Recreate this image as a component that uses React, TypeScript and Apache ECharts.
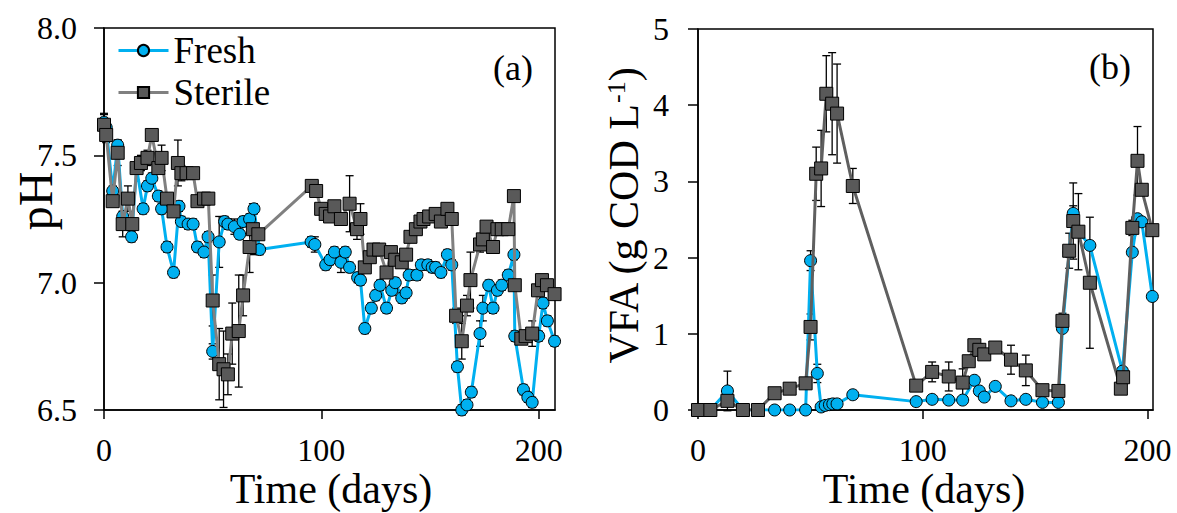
import React, { useEffect, useRef } from 'react';
import * as echarts from 'echarts';

// ---------- Panel (a): pH ----------
const phFreshDays = [0, 1, 4, 6.3, 8.6, 12.7, 15, 18, 20, 22, 25, 26.5, 29, 32, 34.5, 35.6, 38.7, 41, 43, 46, 47.9, 50, 53, 55.5, 57, 60, 62.4, 64, 67, 69, 71.6, 95.3, 97, 102, 104, 106, 109, 111, 113, 116.7, 118, 120, 123, 125, 127, 130, 132.4, 134, 137, 139, 140.4, 144, 146, 149, 151, 152.6, 155, 158, 160, 162.6, 164.6, 167, 169, 173, 174.3, 177, 179, 181, 183, 186, 188.6, 189, 193, 195, 197, 200, 202, 204, 207.3];
const phFreshVals = [7.63, 7.61, 7.36, 7.54, 7.26, 7.18, 7.45, 7.29, 7.38, 7.41, 7.34, 7.29, 7.14, 7.04, 7.30, 7.24, 7.23, 7.23, 7.14, 7.12, 7.18, 6.73, 7.16, 7.24, 7.23, 7.22, 7.19, 7.24, 7.25, 7.29, 7.13, 7.16, 7.15, 7.07, 7.09, 7.12, 7.08, 7.12, 7.06, 7.02, 7.01, 6.82, 6.90, 6.95, 6.99, 6.90, 6.97, 7.00, 6.94, 6.96, 7.03, 7.03, 7.07, 7.07, 7.06, 7.06, 7.04, 7.11, 7.07, 6.67, 6.50, 6.52, 6.57, 6.80, 6.90, 6.99, 6.90, 6.97, 6.99, 7.03, 7.11, 6.79, 6.58, 6.55, 6.53, 6.79, 6.92, 6.85, 6.77];
const phFreshErr = [0.03, 0.02, 0.02, 0.02, 0.02, 0.02, 0.02, 0.02, 0.02, 0.02, 0.02, 0.02, 0.02, 0.02, 0.02, 0.02, 0.02, 0.02, 0.02, 0.02, 0.02, 0.03, 0.1, 0.02, 0.02, 0.03, 0.02, 0.02, 0.02, 0.02, 0.02, 0.02, 0.03, 0.02, 0.02, 0.02, 0.04, 0.02, 0.02, 0.02, 0.02, 0.02, 0.02, 0.02, 0.02, 0.02, 0.02, 0.02, 0.02, 0.02, 0.02, 0.02, 0.02, 0.02, 0.02, 0.02, 0.02, 0.02, 0.02, 0.02, 0.02, 0.02, 0.02, 0.05, 0.05, 0.02, 0.02, 0.02, 0.02, 0.02, 0.02, 0.02, 0.02, 0.02, 0.02, 0.02, 0.02, 0.02, 0.02];

const phSterileDays = [0, 1, 4, 6.3, 8.6, 11, 13, 15, 17, 20, 22, 25, 26.5, 29, 32, 34, 35.6, 38, 41, 43, 46, 48, 50, 53, 55, 57, 59, 62, 64, 67, 68.5, 71, 95.6, 97.6, 99.9, 102, 104, 106, 109, 113, 116.4, 118, 120, 122.3, 124, 126.6, 130, 132, 134, 137, 139, 141, 143.5, 145.6, 147, 149.6, 152.6, 155, 158, 160, 162, 164.6, 167, 168.6, 173, 174.3, 176, 179, 181, 183, 186, 188.6, 189, 192, 194, 197, 199.7, 201.5, 203.8, 207.3];
const phSterileVals = [7.62, 7.58, 7.32, 7.51, 7.23, 7.33, 7.23, 7.45, 7.47, 7.49, 7.58, 7.45, 7.49, 7.33, 7.28, 7.47, 7.43, 7.43, 7.43, 7.32, 7.33, 7.33, 6.93, 6.68, 6.66, 6.64, 6.80, 6.81, 6.95, 7.14, 7.21, 7.19, 7.38, 7.36, 7.29, 7.27, 7.26, 7.30, 7.25, 7.31, 7.21, 7.25, 7.06, 7.10, 7.13, 7.13, 7.04, 7.12, 7.09, 7.08, 7.11, 7.18, 7.21, 7.24, 7.25, 7.26, 7.27, 7.24, 7.29, 7.25, 6.87, 6.77, 6.91, 7.01, 7.15, 7.17, 7.22, 7.14, 7.21, 7.21, 7.21, 7.34, 6.99, 6.78, 6.79, 6.80, 6.97, 7.01, 6.99, 6.955];
const phSterileErr = [0.045, 0.03, 0.02, 0.05, 0.05, 0.05, 0.02, 0.02, 0.03, 0.03, 0.01, 0.02, 0.05, 0.02, 0.02, 0.09, 0.03, 0.01, 0.01, 0.01, 0.01, 0.01, 0.1, 0.14, 0.15, 0.08, 0.12, 0.22, 0.08, 0.1, 0.1, 0.02, 0.01, 0.02, 0.01, 0.02, 0.01, 0.01, 0.02, 0.11, 0.04, 0.06, 0.02, 0.02, 0.01, 0.01, 0.02, 0.01, 0.01, 0.01, 0.02, 0.01, 0.01, 0.01, 0.01, 0.01, 0.01, 0.01, 0.01, 0.01, 0.03, 0.07, 0.04, 0.11, 0.03, 0.02, 0.01, 0.01, 0.01, 0.01, 0.01, 0.01, 0.01, 0.02, 0.02, 0.05, 0.02, 0.02, 0.01, 0.01];

// ---------- Panel (b): VFA ----------
const vfaFreshDays = [0, 5.5, 13.1, 20, 26.7, 34.1, 40.8, 47.9, 50.1, 53.1, 54.8, 56.6, 58.5, 60, 61.9, 68.9, 97.1, 104.2, 111.6, 117.8, 123, 125.2, 127.4, 132.3, 139.3, 145.9, 153.3, 160.4, 162.2, 165.2, 167, 169.3, 174.4, 188.9, 193.3, 195.6, 197.5, 202.2];
const vfaFreshVals = [0, 0, 0.25, 0, 0, 0, 0, 0, 1.96, 0.48, 0.04, 0.06, 0.07, 0.08, 0.08, 0.2, 0.11, 0.14, 0.13, 0.13, 0.39, 0.25, 0.17, 0.31, 0.12, 0.14, 0.1, 0.1, 1.07, 2.07, 2.58, 2.34, 2.16, 0.51, 2.07, 2.51, 2.47, 1.49];
const vfaFreshErr = [0, 0, 0.26, 0, 0, 0, 0, 0, 0.13, 0.12, 0, 0, 0, 0, 0, 0.02, 0.02, 0.02, 0.02, 0.02, 0.03, 0.03, 0.02, 0.02, 0.02, 0.05, 0.02, 0.02, 0.05, 0.05, 0.1, 0.05, 0.05, 0.05, 0.05, 0.05, 0.05, 0.05];

const vfaSterileDays = [0, 5.5, 13.1, 20, 26.7, 34.1, 40.8, 47.9, 50.1, 52.6, 54.8, 57.1, 59.7, 61.9, 68.9, 97.1, 104.2, 111.6, 117.8, 120.5, 123, 125.2, 127.4, 132.3, 139.3, 145.9, 153.3, 160.4, 162.2, 165.2, 167, 169.3, 174.4, 188.2, 189.2, 193.3, 195.6, 197.5, 202.2];
const vfaSterileVals = [0, 0, 0.12, 0, 0, 0.22, 0.28, 0.35, 1.09, 3.1, 3.17, 4.15, 4.02, 3.89, 2.94, 0.32, 0.5, 0.44, 0.36, 0.64, 0.85, 0.79, 0.73, 0.82, 0.66, 0.52, 0.26, 0.25, 1.17, 2.09, 2.48, 2.34, 1.67, 0.28, 0.43, 2.39, 3.27, 2.89, 2.36];
const vfaSterileErr = [0, 0, 0.05, 0, 0, 0.03, 0.03, 0.03, 0.17, 0.35, 0.5, 0.5, 0.67, 0.65, 0.23, 0.05, 0.13, 0.19, 0.18, 0.05, 0.05, 0.08, 0.05, 0.05, 0.19, 0.2, 0.03, 0.03, 0.1, 0.23, 0.5, 0.5, 0.86, 0.03, 0.03, 0.1, 0.45, 0.05, 0.05];

const dayTicks = [0, 100, 200];

const FONT = '"Liberation Serif", "Times New Roman", serif';
const BLUE = '#00B0F0';
const SQ = '#595959';

const zip2 = (a: number[], b: number[]) => a.map((v, i) => [v, b[i]]);
const zip3 = (a: number[], b: number[], c: number[]) => a.map((v, i) => [v, b[i], c[i]]);

const errRender = (params: any, api: any) => {
  const x = api.value(0);
  const y = api.value(1);
  const e = api.value(2);
  if (!e) return null;
  const top = api.coord([x, y + e]);
  const bot = api.coord([x, y - e]);
  const w = 4;
  const st = { stroke: '#000', lineWidth: 1.3 };
  return {
    type: 'group',
    children: [
      { type: 'line', shape: { x1: top[0], y1: top[1], x2: bot[0], y2: bot[1] }, style: st },
      { type: 'line', shape: { x1: top[0] - w, y1: top[1], x2: top[0] + w, y2: top[1] }, style: st },
      { type: 'line', shape: { x1: bot[0] - w, y1: bot[1], x2: bot[0] + w, y2: bot[1] }, style: st },
    ],
  };
};

const xAxisCommon = (grid: number, max: number) => ({
  gridIndex: grid,
  type: 'value',
  min: 0,
  max,
  interval: 100,
  axisLine: { show: true, lineStyle: { color: '#000', width: 1.5 } },
  axisTick: { show: true, inside: false, length: 9, customValues: dayTicks, lineStyle: { color: '#000', width: 1.5 } },
  axisLabel: { customValues: dayTicks, fontSize: 32, fontFamily: FONT, color: '#000', margin: 24 },
  splitLine: { show: false },
});

const option: any = {
  animation: false,
  backgroundColor: '#fff',
  grid: [
    { left: 104, top: 28, width: 451, height: 382, show: true, borderColor: '#000', borderWidth: 1.5, backgroundColor: 'transparent' },
    { left: 698, top: 29, width: 455, height: 381, show: true, borderColor: '#000', borderWidth: 1.5, backgroundColor: 'transparent' },
  ],
  xAxis: [xAxisCommon(0, 207.5), xAxisCommon(1, 202.5)],
  yAxis: [
    {
      gridIndex: 0, type: 'value', min: 6.5, max: 8.0, interval: 0.5,
      axisLine: { show: true, lineStyle: { color: '#000', width: 1.5 } },
      axisTick: { show: true, inside: false, length: 10, lineStyle: { color: '#000', width: 1.5 } },
      axisLabel: { fontSize: 32, fontFamily: FONT, color: '#000', margin: 27, formatter: (v: number) => v.toFixed(1) },
      splitLine: { show: false },
    },
    {
      gridIndex: 1, type: 'value', min: 0, max: 5, interval: 1,
      axisLine: { show: true, lineStyle: { color: '#000', width: 1.5 } },
      axisTick: { show: true, inside: false, length: 10, lineStyle: { color: '#000', width: 1.5 } },
      axisLabel: { fontSize: 32, fontFamily: FONT, color: '#000', margin: 29 },
      splitLine: { show: false },
    },
  ],
  legend: {
    data: ['Fresh', 'Sterile'],
    orient: 'vertical',
    left: 112,
    top: 27,
    itemWidth: 50,
    itemHeight: 14,
    itemGap: 5,
    lineStyle: { width: 3 },
    textStyle: { fontSize: 37, fontFamily: FONT, color: '#000' },
  },
  graphic: [
    { type: 'text', x: 35, y: 201, rotation: Math.PI / 2, style: { text: 'pH', font: `48px ${FONT}`, fill: '#000', textAlign: 'center', textVerticalAlign: 'middle', align: 'center', verticalAlign: 'middle' } },
    {
      type: 'text', x: 624, y: 216, rotation: Math.PI / 2,
      style: {
        text: '{n|VFA (g COD L}{s|-1}{n|)}',
        rich: {
          n: { fontSize: 42, fontFamily: FONT, fill: '#000', color: '#000' },
          s: { fontSize: 26, fontFamily: FONT, fill: '#000', color: '#000', verticalAlign: 'top', padding: [0, 0, 12, 0] },
        },
        fill: '#000', textAlign: 'center', textVerticalAlign: 'middle', align: 'center', verticalAlign: 'middle',
      },
    },
    { type: 'text', x: 331, y: 489, style: { text: 'Time (days)', font: `42px ${FONT}`, fill: '#000', textAlign: 'center', textVerticalAlign: 'middle', align: 'center', verticalAlign: 'middle' } },
    { type: 'text', x: 924, y: 489, style: { text: 'Time (days)', font: `42px ${FONT}`, fill: '#000', textAlign: 'center', textVerticalAlign: 'middle', align: 'center', verticalAlign: 'middle' } },
    { type: 'text', x: 493, y: 68, style: { text: '(a)', font: `36px ${FONT}`, fill: '#000', textAlign: 'left', textVerticalAlign: 'middle', align: 'left', verticalAlign: 'middle' } },
    { type: 'text', x: 1089, y: 67, style: { text: '(b)', font: `36px ${FONT}`, fill: '#000', textAlign: 'left', textVerticalAlign: 'middle', align: 'left', verticalAlign: 'middle' } },
  ],
  series: [
    { type: 'custom', xAxisIndex: 0, yAxisIndex: 0, data: zip3(phFreshDays, phFreshVals, phFreshErr), renderItem: errRender, encode: { x: 0, y: 1 }, z: 2, silent: true },
    { type: 'custom', xAxisIndex: 0, yAxisIndex: 0, data: zip3(phSterileDays, phSterileVals, phSterileErr), renderItem: errRender, encode: { x: 0, y: 1 }, z: 2, silent: true },
    { type: 'custom', xAxisIndex: 1, yAxisIndex: 1, data: zip3(vfaFreshDays, vfaFreshVals, vfaFreshErr), renderItem: errRender, encode: { x: 0, y: 1 }, z: 2, silent: true },
    { type: 'custom', xAxisIndex: 1, yAxisIndex: 1, data: zip3(vfaSterileDays, vfaSterileVals, vfaSterileErr), renderItem: errRender, encode: { x: 0, y: 1 }, z: 2, silent: true },
    {
      name: 'Fresh', type: 'line', xAxisIndex: 0, yAxisIndex: 0, data: zip2(phFreshDays, phFreshVals),
      symbol: 'circle', symbolSize: 12, showAllSymbol: true, z: 3,
      lineStyle: { color: BLUE, width: 3 },
      itemStyle: { color: BLUE, borderColor: '#000', borderWidth: 1 },
    },
    {
      name: 'Sterile', type: 'line', xAxisIndex: 0, yAxisIndex: 0, data: zip2(phSterileDays, phSterileVals),
      symbol: 'rect', symbolSize: 13, showAllSymbol: true, z: 4,
      lineStyle: { color: '#808080', width: 3 },
      itemStyle: { color: SQ, borderColor: '#000', borderWidth: 1 },
    },
    {
      name: 'Fresh', type: 'line', xAxisIndex: 1, yAxisIndex: 1, data: zip2(vfaFreshDays, vfaFreshVals),
      symbol: 'circle', symbolSize: 12, showAllSymbol: true, z: 3,
      lineStyle: { color: BLUE, width: 3 },
      itemStyle: { color: BLUE, borderColor: '#000', borderWidth: 1 },
    },
    {
      name: 'Sterile', type: 'line', xAxisIndex: 1, yAxisIndex: 1, data: zip2(vfaSterileDays, vfaSterileVals),
      symbol: 'rect', symbolSize: 13, showAllSymbol: true, z: 4,
      lineStyle: { color: '#5f5f5f', width: 3 },
      itemStyle: { color: SQ, borderColor: '#000', borderWidth: 1 },
    },
  ],
};

export default function App() {
  const ref = useRef<HTMLDivElement>(null);
  useEffect(() => {
    if (!ref.current) return;
    const chart = echarts.init(ref.current, null, { renderer: 'svg' });
    chart.setOption(option);
    return () => chart.dispose();
  }, []);
  return <div ref={ref} style={{ position: 'fixed', left: 0, top: 0, width: 1177, height: 513, background: '#fff' }} />;
}
